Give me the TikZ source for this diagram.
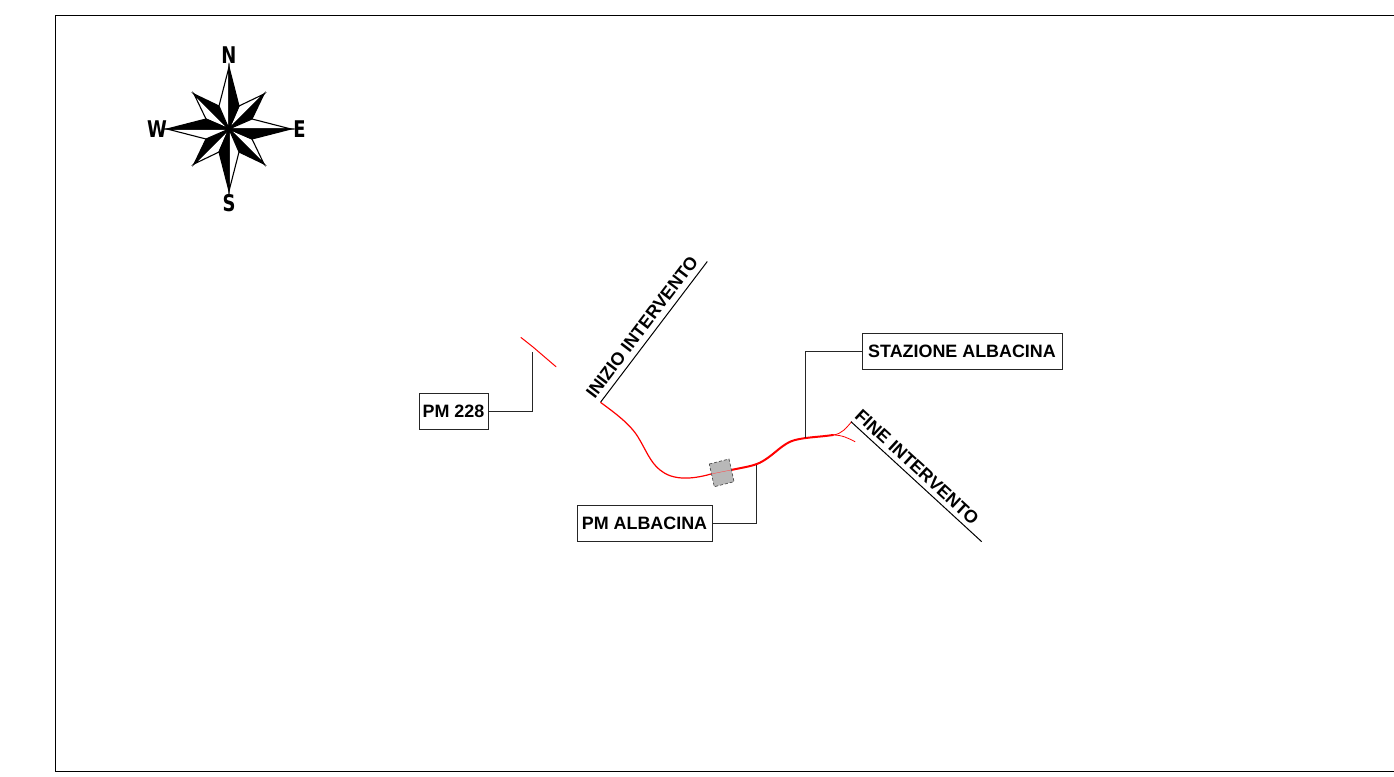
\documentclass[tikz,border=0pt]{standalone}
\usepackage{fontspec}
\setmainfont{Liberation Sans}
\newfontfamily\compassfont{DejaVu Sans}
\begin{document}
\begin{tikzpicture}[x=1pt,y=-1pt,
  frameline/.style={draw=black,line width=1pt},
  lead/.style={draw=black!85,line width=1pt},
  labelbox/.style={draw=black!85,line width=1pt,fill=white,inner sep=0pt,font=\fontsize{17.9}{18}\bfseries,anchor=center},
  along/.style={font=\fontsize{17.9}{18}\bfseries,inner sep=0pt},
  road/.style={draw=red,line cap=round,line join=round},
  ray/.style={draw=black,line width=1.1pt,line join=miter},
  cardinal/.style={font=\compassfont\fontsize{23}{23}\bfseries,inner sep=0pt,xscale=.78}]
\useasboundingbox (0,0) rectangle (1394,776);
% frame
\coordinate (fa) at (1394,15.5);
\coordinate (fb) at (55.5,15.5);
\coordinate (fc) at (55.5,771);
\coordinate (fd) at (1394,771);
\draw[frameline] (fa) -- (fb) -- (fc) -- (fd);
% compass
\begin{scope}[shift={(229,129)}]
  \foreach \r in {0,90,180,270}{
    \begin{scope}[rotate=\r]
      \filldraw[ray,fill=white] (0,0) -- (35,-35) -- (10,-23) -- cycle;
      \filldraw[ray,fill=black] (0,0) -- (35,-35) -- (23,-10) -- cycle;
    \end{scope}
  }
  \foreach \r in {0,90,180,270}{
    \begin{scope}[rotate=\r]
      \filldraw[ray,fill=white] (0,0) -- (0,-62) -- (-10,-23) -- cycle;
      \filldraw[ray,fill=black] (0,0) -- (0,-62) -- (10,-23) -- cycle;
    \end{scope}
  }
\end{scope}
\node[cardinal] (north) at (229,55.5) {N};
\node[cardinal] (south) at (229,203) {S};
\node[cardinal] (east) at (299.5,129) {E};
\node[cardinal] (west) at (157,129) {W};
% road
\draw[road,line width=1.2pt] (600.7,402.5) .. controls (615,413) and (630,424) .. (638,437)
  .. controls (646,450) and (650,462) .. (660,470)
  .. controls (672,480) and (690,480) .. (711,474);
\draw[road,line width=2pt] (731,470) .. controls (745,467) and (755,466) .. (763,461)
  .. controls (775,454) and (783,443) .. (795,440)
  .. controls (807,437) and (820,437) .. (833,435);
\draw[road,line width=.8pt] (833,435) .. controls (842,434) and (846,428) .. (851.7,421.7);
\draw[road,line width=.8pt] (833,435) .. controls (842,435) and (848,438) .. (855,441.7);
\draw[road,line width=1pt] (521,337.5) -- (533,347) -- (556,366.7);
% building
\filldraw[fill=black!28,draw=black!70,line width=.7pt,densely dashed] (709.3,464) -- (729,459) -- (734,481.7) -- (714.3,486.7) -- cycle;
\draw[draw=red!70,line width=.4pt] (711,474) -- (731,470);
% labels
\node[labelbox,minimum width=69pt,minimum height=36pt] (pm) at (453.5,411) {PM 228};
\node[labelbox,minimum width=200pt,minimum height=36pt] (staz) at (962,351) {STAZIONE ALBACINA};
\node[labelbox,minimum width=135pt,minimum height=36pt] (alb) at (644.5,523) {PM ALBACINA};
\coordinate (pmend) at (532.5,352);
\coordinate (stazend) at (805.5,438);
\coordinate (albend) at (756,465);
\draw[lead] (pm.east) -| (pmend);
\draw[lead] (staz.west) -| (stazend);
\draw[lead] (alb.east) -| (albend);
% start / end
\coordinate (ia) at (600.7,402);
\coordinate (ib) at (707.3,261.5);
\coordinate (fia) at (851,421.7);
\coordinate (fib) at (981.7,541.7);
\draw[frameline] (ia) -- (ib);
\draw[frameline] (fia) -- (fib);
\node[along,rotate=52.8] (inizio) at (642,327) {INIZIO INTERVENTO};
\node[along,rotate=-42.6] (fine) at (917,467) {FINE INTERVENTO};
\end{tikzpicture}
\end{document}
